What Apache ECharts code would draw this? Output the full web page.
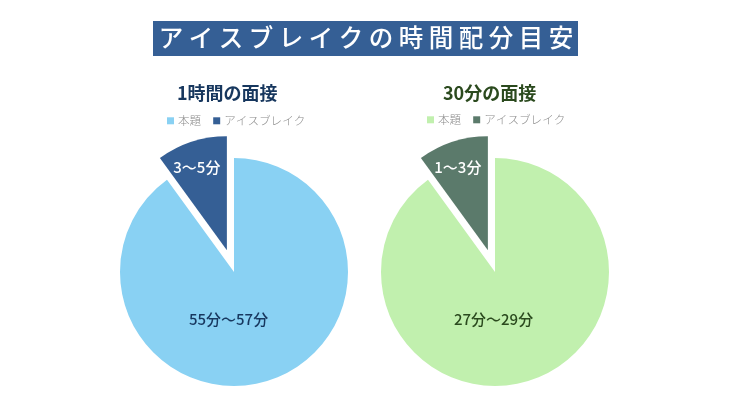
<!DOCTYPE html>
<html><head><meta charset="utf-8">
<script src="https://cdn.jsdelivr.net/npm/echarts@6/dist/echarts.min.js"></script>
<style>html,body{margin:0;padding:0;background:#fff}#c{width:730px;height:410px}</style>
</head><body><div id="c"></div>
<script>
const mainTitle = 'ア イ ス ブ レ イ ク の 時 間 配 分 目 安';
const legendNames = ['本題', 'アイスブレイク'];
const leftTitle = '1時間の面接';
const rightTitle = '30分の面接';
const leftValues = [90, 10];
const rightValues = [90, 10];
const leftLabels = ['55分～57分', '3～5分'];
const rightLabels = ['27分～29分', '1～3分'];
const leftColors = ['#89D1F3', '#355F95'];
const rightColors = ['#C1F0AE', '#5B7A6B'];
const FONT = '"Noto Sans CJK JP"';

function legend(colors, left, top) {
  return {
    left, top, itemWidth: 7, itemHeight: 7, itemGap: 12, icon: 'rect',
    selectedMode: false,
    textStyle: { fontFamily: FONT, fontSize: 11.6, color: '#8C8C8C', fontWeight: 300, padding: [0, 0, 0, -1] },
    data: legendNames.map((n, i) => ({ name: n, itemStyle: { color: colors[i] } }))
  };
}
function pie(values, labels, colors, cx, textColor, mainDx) {
  return {
    type: 'pie', center: [cx, 272], radius: [0, 114], startAngle: 90, clockwise: true,
    selectedMode: 'multiple', selectedOffset: 23, animation: false, silent: true,
    avoidLabelOverlap: false,
    labelLine: { show: false },
    labelLayout: p => p.dataIndex === 1 ? {} : { dx: mainDx, dy: -10 },
    data: values.map((v, i) => ({
      name: legendNames[i], value: v, selected: i === 1,
      itemStyle: { color: colors[i] },
      label: {
        show: true, position: 'inside',
        formatter: i === 1 ? '{t|' + labels[i] + '}' : labels[i],
        fontFamily: FONT, fontSize: 15, fontWeight: 500,
        color: i === 1 ? '#FFFFFF' : textColor,
        rich: { t: { fontFamily: FONT, fontSize: 15, fontWeight: 500, color: '#FFFFFF', padding: [0, 23, 52, 0] } }
      }
    }))
  };
}
const chart = echarts.init(document.getElementById('c'));
chart.setOption({
  backgroundColor: '#fff',
  animation: false,
  graphic: [{ type: 'rect', z: -1, shape: { x: 153, y: 21, width: 425, height: 35 }, style: { fill: '#355F95' } }],
  title: [
    { text: mainTitle, left: 366, top: 22, textAlign: 'center', padding: 0, textStyle: { fontFamily: FONT, fontSize: 24.5, fontWeight: 500, color: '#fff', lineHeight: 32 } },
    { text: leftTitle, left: 177, top: 84, padding: 0, textStyle: { fontFamily: FONT, fontSize: 18, fontWeight: 700, color: '#17375E' } },
    { text: rightTitle, left: 443, top: 84, padding: 0, textStyle: { fontFamily: FONT, fontSize: 18, fontWeight: 700, color: '#2B4A1E' } }
  ],
  legend: [legend(leftColors, 162, 110), legend(rightColors, 422, 109)],
  series: [pie(leftValues, leftLabels, leftColors, 234, '#17375E', -24), pie(rightValues, rightLabels, rightColors, 495, '#2B4A1E', -20)]
});
</script></body></html>
